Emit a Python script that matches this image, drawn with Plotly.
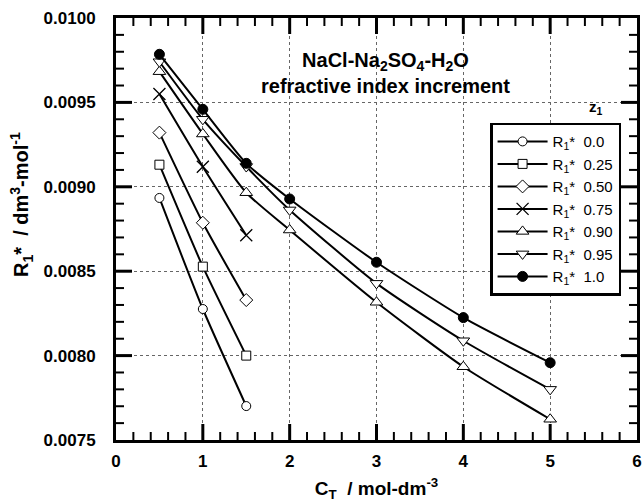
import numpy as np
import plotly.graph_objects as go

x_short = [0.5, 1.0, 1.5]
x_long = [0.5, 1.0, 1.5, 2.0, 3.0, 4.0, 5.0]

z_labels = ["0.0", "0.25", "0.50", "0.75", "0.90", "0.95", "1.0"]
r_z000 = [0.008934, 0.008276, 0.007701]
r_z025 = [0.009131, 0.008527, 0.008000]
r_z050 = [0.009321, 0.008787, 0.008329]
r_z075 = [0.009550, 0.009119, 0.008713]
r_z090 = [0.009682, 0.009313, 0.008965, 0.008744, 0.008316, 0.007934, 0.007623]
r_z095 = [0.009741, 0.009400, 0.009120, 0.008863, 0.008428, 0.008088, 0.007800]
r_z100 = [0.009785, 0.009459, 0.009139, 0.008928, 0.008553, 0.008225, 0.007958]

series = [
    (x_short, r_z000, "circle", "white", 9, 1),
    (x_short, r_z025, "square", "white", 9, 1),
    (x_short, r_z050, "diamond", "white", 10, 1),
    (x_short, r_z075, "x-thin-open", "black", 12, 1.3),
    (x_long, r_z090, "triangle-up", "white", 11, 1),
    (x_long, r_z095, "triangle-down", "white", 11, 1),
    (x_long, r_z100, "circle", "black", 10, 1),
]

FONT = "Arial, Liberation Sans"
X_RANGE = [0, 6]
Y_RANGE = [0.0075, 0.0100]
X_MAJOR, X_MINOR = 1.0, 0.2
Y_MAJOR, Y_MINOR = 0.0005, 0.0001

W, H = 643, 502
ML, MR, MT, MB = 116, 6, 18, 62
PW, PH = W - ML - MR, H - MT - MB
XSPAN = X_RANGE[1] - X_RANGE[0]
YSPAN = Y_RANGE[1] - Y_RANGE[0]

fig = go.Figure()


# inside tick marks on all four sides, drawn as line-shaped markers placed
# half a tick length inside each axis, at the axis tick values
def tick_markers(values, length_px, width, axis):
    xs, ys = [], []
    if axis == "x":
        d = length_px / 2 / PH * YSPAN
        for v in values:
            xs += [v, v]
            ys += [Y_RANGE[0] + d, Y_RANGE[1] - d]
        sym = "line-ns-open"
    else:
        d = length_px / 2 / PW * XSPAN
        for v in values:
            xs += [X_RANGE[0] + d, X_RANGE[1] - d]
            ys += [v, v]
        sym = "line-ew-open"
    fig.add_trace(go.Scatter(
        x=xs, y=ys, mode="markers", showlegend=False, hoverinfo="none",
        marker=dict(symbol=sym, size=length_px / 1.4, color="black",
                    line=dict(color="black", width=width)),
    ))


def is_multiple(v, base, step):
    q = (v - base) / step
    return abs(q - round(q)) < 1e-6


x_all = np.arange(X_RANGE[0], X_RANGE[1] + 1e-9, X_MINOR)
y_all = np.arange(Y_RANGE[0], Y_RANGE[1] + 1e-12, Y_MINOR)
x_major = [float(v) for v in x_all if is_multiple(v, X_RANGE[0], X_MAJOR)][1:-1]
x_minor = [float(v) for v in x_all if not is_multiple(v, X_RANGE[0], X_MAJOR)]
y_major = [float(v) for v in y_all if is_multiple(v, Y_RANGE[0], Y_MAJOR)][1:-1]
y_minor = [float(v) for v in y_all if not is_multiple(v, Y_RANGE[0], Y_MAJOR)]

tick_markers(x_major, 16, 3, "x")
tick_markers(x_minor, 8, 2, "x")
tick_markers(y_major, 16, 3, "y")
tick_markers(y_minor, 8, 2, "y")

for (xs, ys, sym, fill, size, lw), lab in zip(series, z_labels):
    fig.add_trace(go.Scatter(
        x=xs, y=ys, mode="lines+markers",
        name="R<sub>1</sub>*  " + lab,
        line=dict(color="black", width=2, shape="spline", smoothing=0.6),
        marker=dict(symbol=sym, size=size, color=fill,
                    line=dict(color="black", width=lw)),
    ))

tickfont = dict(family=FONT, size=17, color="black", weight="bold")

fig.update_layout(
    template="none",
    width=W, height=H,
    margin=dict(l=ML, r=MR, t=MT, b=MB),
    paper_bgcolor="white", plot_bgcolor="white",
    font=dict(family=FONT, color="black"),
    showlegend=True,
    legend=dict(
        x=0.718, y=0.752, xanchor="left", yanchor="top",
        bgcolor="white", bordercolor="black", borderwidth=2.5,
        font=dict(family=FONT, size=15, color="black"),
        itemwidth=50, tracegroupgap=0,
    ),
    xaxis=dict(
        range=X_RANGE, dtick=X_MAJOR, tick0=0, automargin=False,
        showline=True, linecolor="black", linewidth=3, mirror=True,
        ticks="",
        showgrid=True, gridcolor="#666", griddash="dot", gridwidth=1,
        zeroline=False, tickfont=tickfont, ticklabelstandoff=4,
        title=dict(text="C<sub>T</sub>  / mol-dm<sup>-3</sup>",
                   font=dict(family=FONT, size=19, color="black", weight="bold"),
                   standoff=16),
    ),
    yaxis=dict(
        range=Y_RANGE, dtick=Y_MAJOR, tick0=Y_RANGE[0], tickformat=".4f",
        automargin=False,
        showline=True, linecolor="black", linewidth=3, mirror=True,
        ticks="",
        showgrid=True, gridcolor="#666", griddash="dot", gridwidth=1,
        zeroline=False, tickfont=tickfont, ticklabelstandoff=14,
    ),
)

fig.add_annotation(
    x=-0.212, y=0.557, xref="paper", yref="paper", showarrow=False,
    text="R<sub>1</sub>*  / dm<sup>3</sup>-mol<sup>-1</sup>", textangle=-90,
    font=dict(family=FONT, size=20, color="black", weight="bold"),
)
fig.add_annotation(
    x=0.518, y=0.932, xref="paper", yref="paper", showarrow=False,
    text="NaCl-Na<sub>2</sub>SO<sub>4</sub>-H<sub>2</sub>O<br>refractive index increment",
    font=dict(family=FONT, size=20, color="black", weight="bold"),
    align="center",
)
fig.add_annotation(
    x=0.938, y=0.815, xref="paper", yref="paper", showarrow=False,
    text="z<sub>1</sub>",
    font=dict(family=FONT, size=15, color="black", weight="bold"),
)

fig.write_html(
    "out.html",
    config={"displayModeBar": False},
    post_script="document.body.style.margin='0';document.body.style.overflow='hidden';",
)
